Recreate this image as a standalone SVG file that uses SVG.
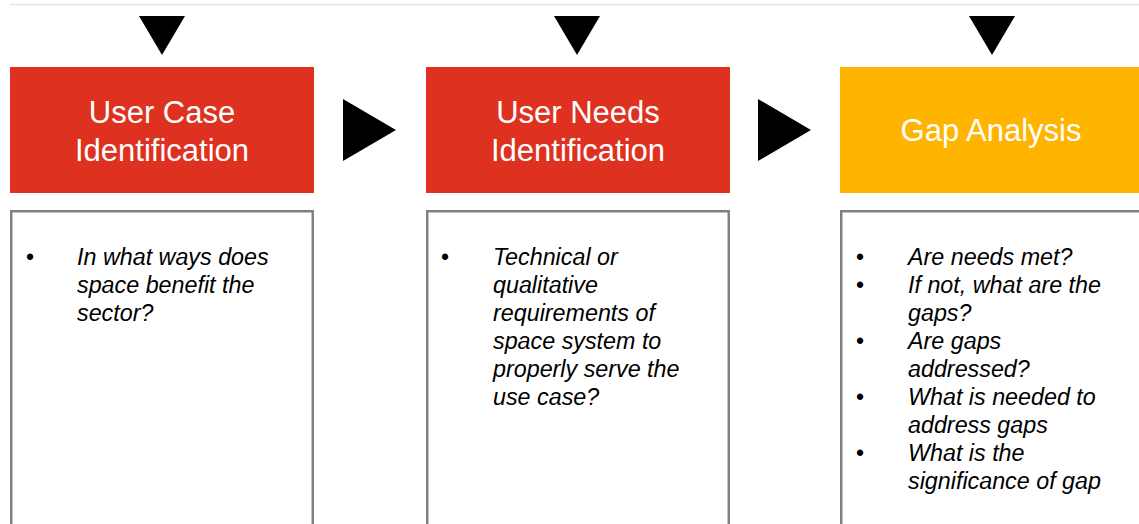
<svg xmlns="http://www.w3.org/2000/svg" width="1139" height="524" viewBox="0 0 1139 524">
<style>
.hdr{font-family:"Liberation Sans",Arial,sans-serif;font-size:31px;fill:#ffffff;text-anchor:middle}
.body{font-family:"Liberation Sans",Arial,sans-serif;font-size:23.3px;font-style:italic;fill:#000000}
.bul{font-family:"Liberation Sans",Arial,sans-serif;font-size:23px;fill:#000000}
.red{fill:#DF3120}
.orange{fill:#FFB400}
.panel{fill:#ffffff;stroke:#808080;stroke-width:2.5}
.tri{fill:#000000}
</style>
<rect width="1139" height="524" fill="#ffffff"/>
<line x1="10" y1="4.5" x2="1139" y2="4.5" stroke="#e4e4e4" stroke-width="1.5"/>
<g id="connectors">
<polygon class="tri" points="139,16 185,16 162,55"/>
<polygon class="tri" points="554,16 600,16 577,55"/>
<polygon class="tri" points="969,16 1015,16 992,55"/>
<polygon class="tri" points="343,99 396,130 343,161"/>
<polygon class="tri" points="758,99 811,130 758,161"/>
</g>
<g id="node-user-case">
<rect class="red" x="10" y="67" width="304" height="126"/>
<text class="hdr" x="162" y="123">User Case</text>
<text class="hdr" x="162" y="161">Identification</text>
</g>
<g id="node-user-case-details">
<rect class="panel" x="11.25" y="211.25" width="301.5" height="340"/>
<text class="bul" x="26" y="265">•</text>
<text class="body" x="77" y="265">In what ways does</text>
<text class="body" x="77" y="293">space benefit the</text>
<text class="body" x="77" y="321">sector?</text>
</g>
<g id="node-user-needs">
<rect class="red" x="426" y="67" width="304" height="126"/>
<text class="hdr" x="578" y="123">User Needs</text>
<text class="hdr" x="578" y="161">Identification</text>
</g>
<g id="node-user-needs-details">
<rect class="panel" x="427.25" y="211.25" width="301.5" height="340"/>
<text class="bul" x="441" y="265">•</text>
<text class="body" x="493" y="265">Technical or</text>
<text class="body" x="493" y="293">qualitative</text>
<text class="body" x="493" y="321">requirements of</text>
<text class="body" x="493" y="349">space system to</text>
<text class="body" x="493" y="377">properly serve the</text>
<text class="body" x="493" y="405">use case?</text>
</g>
<g id="node-gap-analysis">
<rect class="orange" x="840" y="67" width="304" height="126"/>
<text class="hdr" x="991" y="141">Gap Analysis</text>
</g>
<g id="node-gap-analysis-details">
<rect class="panel" x="841.25" y="211.25" width="301.5" height="340"/>
<text class="bul" x="856" y="265">•</text>
<text class="body" x="908" y="265">Are needs met?</text>
<text class="bul" x="856" y="293">•</text>
<text class="body" x="908" y="293">If not, what are the</text>
<text class="body" x="908" y="321">gaps?</text>
<text class="bul" x="856" y="349">•</text>
<text class="body" x="908" y="349">Are gaps</text>
<text class="body" x="908" y="377">addressed?</text>
<text class="bul" x="856" y="405">•</text>
<text class="body" x="908" y="405">What is needed to</text>
<text class="body" x="908" y="433">address gaps</text>
<text class="bul" x="856" y="461">•</text>
<text class="body" x="908" y="461">What is the</text>
<text class="body" x="908" y="489">significance of gap</text>
</g>
</svg>
